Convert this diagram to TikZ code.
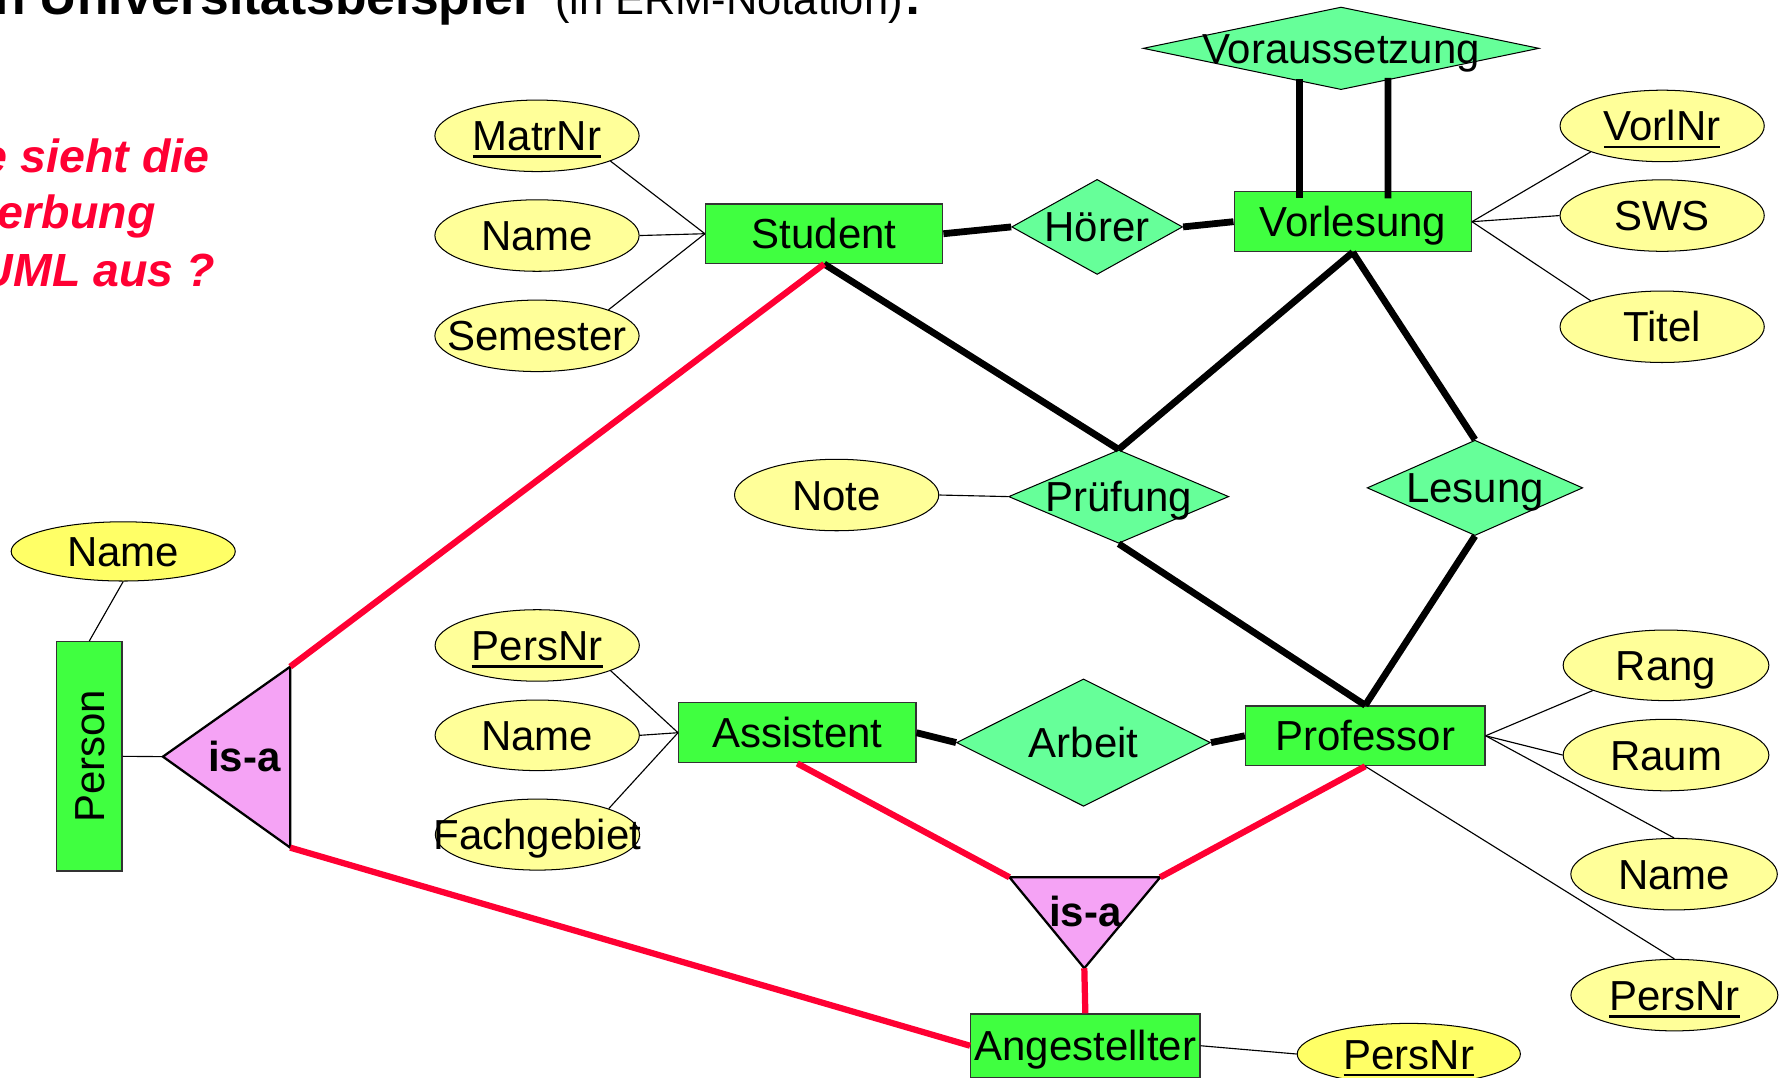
\documentclass[tikz,border=0pt]{standalone}
\usepackage{fontspec}
\setmainfont{Liberation Sans}
\usetikzlibrary{shapes.geometric,calc}
\definecolor{entgreen}{HTML}{40FF40}
\definecolor{relgreen}{HTML}{66FF99}
\definecolor{attyel}{HTML}{FFFF99}
\definecolor{attyelb}{HTML}{FFFF66}
\definecolor{isapink}{HTML}{F5A3F5}
\definecolor{isared}{HTML}{FF0033}
\definecolor{bord}{HTML}{333333}
\newcommand\labfont{\fontsize{37pt}{44pt}\selectfont}
\newsavebox\ulbox
\newcommand\myul[1]{\sbox\ulbox{#1}\rlap{\rule[-6.5pt]{\wd\ulbox}{2.5pt}}\usebox\ulbox}
\tikzset{
  ent/.style={draw=bord, line width=1.2pt, fill=entgreen, inner sep=0pt, font=\labfont, text height=26.5pt, text depth=0pt},
  rel/.style={diamond, draw=black, line width=0.9pt, fill=relgreen, inner sep=0pt, font=\labfont, text height=26.5pt, text depth=0pt},
  att/.style={ellipse, draw=black, line width=0.9pt, fill=attyel, inner sep=0pt, minimum width=180pt, minimum height=63pt, font=\labfont, text height=26.5pt, text depth=0pt},
  thickln/.style={line width=6pt, black},
  redln/.style={line width=5.5pt, isared},
  thinln/.style={line width=1pt, black},
  isatri/.style={draw=black, line width=2pt, fill=isapink, line join=miter},
  isalab/.style={font=\labfont\bfseries, anchor=base, inner sep=0pt},
  qtext/.style={anchor=base west, inner sep=0pt, text=isared, font=\fontsize{41pt}{50pt}\selectfont\bfseries\itshape},
  ttl/.style={anchor=base west, inner sep=0pt}
}
\begin{document}
\begin{tikzpicture}[x=1pt,y=-1pt]
\useasboundingbox (0,0) rectangle (1568,950);

% title
\node[ttl, font=\fontsize{45.5pt}{50pt}\selectfont\bfseries] (title) at (-5.4,13.2) {n Universitätsbeispiel};
\node[ttl, font=\fontsize{38.3pt}{44pt}\selectfont] (titlesub) at (489,13.2) {(in ERM-Notation)};
\node[ttl, font=\fontsize{45.5pt}{50pt}\selectfont\bfseries] (titlecolon) at (797,13.2) {:};

% question
\node[qtext] (q1) at (-16.2,152.2) {e sieht die};
\node[qtext] (q2) at (-2,201.2) {erbung};
\node[qtext] (q3) at (-18,252.7) {UML aus ?};

% entities
\node[ent, minimum width=209pt, minimum height=52.2pt] (student) at (726.4,206) {Student};
\node[ent, minimum width=209pt, minimum height=52.8pt] (vorl) at (1192.3,195.4) {Vorlesung};
\node[ent, minimum width=209pt, minimum height=53pt] (assi) at (702.7,645.8) {Assistent};
\node[ent, minimum width=211pt, minimum height=52.6pt] (prof) at (1203.3,648.5) {Professor};
\node[ent, minimum width=202pt, minimum height=56pt] (ang) at (956.6,921.7) {Angestellter};
\node[ent, rotate=90, minimum width=202pt, minimum height=57.4pt] (person) at (78.7,666.6) {Person};

% relationships
\node[rel, minimum width=349pt, minimum height=72.8pt] (vor) at (1182,42.6) {\makebox[0pt]{Voraussetzung}};
\node[rel, minimum width=150.6pt, minimum height=83.8pt] (hoer) at (967,200) {\makebox[0pt]{Hörer}};
\node[rel, minimum width=194pt, minimum height=82.3pt] (pruef) at (986,437.7) {\makebox[0pt]{Prüfung}};
\node[rel, minimum width=190pt, minimum height=84pt] (les) at (1300,430) {\makebox[0pt]{Lesung}};
\node[rel, minimum width=223.8pt, minimum height=112.3pt] (arb) at (955,654.5) {\makebox[0pt]{Arbeit}};

% attributes
\node[att] (matr) at (473.3,119.7) {\makebox[0pt]{\myul{MatrNr}}};
\node[att] (sname) at (473.3,207.6) {\makebox[0pt]{Name}};
\node[att] (sem) at (473.3,296) {\makebox[0pt]{Semester}};
\node[att] (vorlnr) at (1465,111) {\makebox[0pt]{\myul{VorlNr}}};
\node[att] (sws) at (1465,190) {\makebox[0pt]{SWS}};
\node[att] (titel) at (1465,288) {\makebox[0pt]{Titel}};
\node[att] (note) at (737.4,436.3) {\makebox[0pt]{Note}};
\node[att, fill=attyelb, minimum width=197.5pt, minimum height=52.2pt] (pname) at (108.6,486) {\makebox[0pt]{Name}};
\node[att] (apers) at (473.5,568.9) {\makebox[0pt]{\myul{PersNr}}};
\node[att, minimum height=62.2pt] (aname) at (473.5,648.1) {\makebox[0pt]{Name}};
\node[att, minimum height=62.6pt] (fach) at (473.7,735.6) {\makebox[0pt]{Fachgebiet}};
\node[att, minimum width=181.3pt, minimum height=62.2pt] (rang) at (1468.4,586.4) {\makebox[0pt]{Rang}};
\node[att, minimum width=181.3pt] (raum) at (1468.4,665.5) {\makebox[0pt]{Raum}};
\node[att, minimum width=182pt] (prname) at (1475.5,770.5) {\makebox[0pt]{Name}};
\node[att, minimum width=182.4pt] (prpers) at (1475.8,877.1) {\makebox[0pt]{\myul{PersNr}}};
\node[att, fill=attyelb, minimum width=196.7pt, minimum height=54pt] (angpers) at (1241.7,929) {\makebox[0pt]{\myul{PersNr}}};

% is-a triangles
\coordinate (i1tip) at (143.6,666.9);
\coordinate (i1top) at (255.8,587.6);
\coordinate (i1bot) at (255.8,747.1);
\draw[isatri] (i1tip) -- (i1top) -- (i1bot) -- cycle;
\node[isalab] (i1lab) at (215.4,680.1) {is-a};
\coordinate (i2tl) at (889.7,773.2);
\coordinate (i2tr) at (1022.6,773.2);
\coordinate (i2tip) at (955.7,853.4);
\draw[isatri] (i2tl) -- (i2tr) -- (i2tip) -- cycle;
\node[isalab] (i2lab) at (956.5,816.7) {is-a};

% thin attribute lines
\draw[thinln] (matr.-19) -- (student.west);
\draw[thinln] (sname.east) -- (student.west);
\draw[thinln] (sem.20) -- (student.west);
\draw[thinln] (vorlnr.200) -- (vorl.east);
\draw[thinln] (sws.west) -- (vorl.east);
\draw[thinln] (titel.160) -- (vorl.east);
\draw[thinln] (note.east) -- (pruef.west);
\draw[thinln] (apers.-19) -- (assi.west);
\draw[thinln] (aname.east) -- (assi.west);
\draw[thinln] (fach.20) -- (assi.west);
\draw[thinln] (rang.199) -- (prof.east);
\draw[thinln] (raum.west) -- (prof.east);
\draw[thinln] (prname.north) -- (prof.east);
\draw[thinln] (prpers.north) -- (prof.south);
\draw[thinln] (ang.east) -- (angpers.west);
\draw[thinln] (pname.south) -- (person.east);
\draw[thinln] (person.south) -- (i1tip);

% thick relationship lines
\draw[thickln] (student.east) -- (hoer.west);
\draw[thickln] (hoer.east) -- (vorl.west);
\draw[thickln] ($(vor.center)+(-37,27)$) -- ($(vorl.north)+(-47.3,6.5)$);
\draw[thickln] ($(vor.center)+(41.4,26)$) -- ($(vorl.north)+(31.1,6.5)$);
\draw[thickln] (student.south) -- (pruef.north);
\draw[thickln] (vorl.south) -- (pruef.north);
\draw[thickln] (vorl.south) -- (les.north);
\draw[thickln] (pruef.south) -- (prof.north);
\draw[thickln] (les.south) -- (prof.north);
\draw[thickln] (assi.east) -- (arb.west);
\draw[thickln] (arb.east) -- (prof.west);

% generalisation lines
\draw[redln] (student.south) -- (i1top);
\draw[redln] (i1bot) -- (ang.west);
\draw[redln] (assi.south) -- (i2tl);
\draw[redln] (prof.south) -- (i2tr);
\draw[redln] (i2tip) -- (ang.north);
\end{tikzpicture}
\end{document}
